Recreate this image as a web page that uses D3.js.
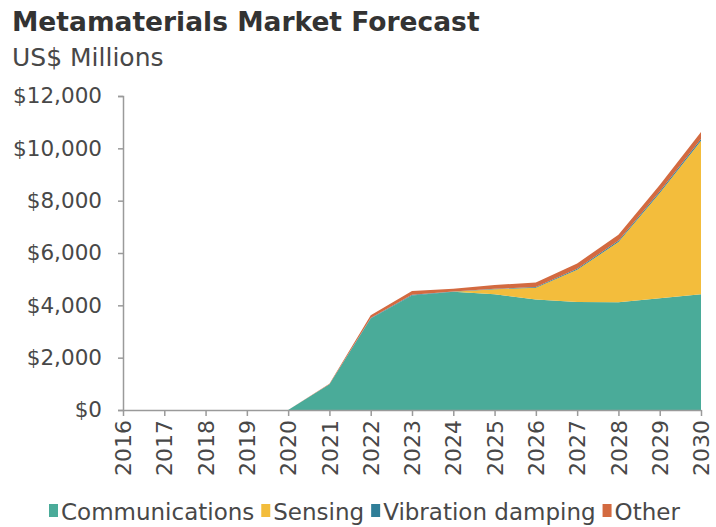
<!DOCTYPE html>
<html>
<head>
<meta charset="utf-8">
<script src="https://cdn.jsdelivr.net/npm/d3@7"></script>
<style>
  html, body { margin: 0; padding: 0; background: #fff; }
  svg { display: block; }
</style>
</head>
<body>
<svg id="chart" width="716" height="527"></svg>
<script>
// Metamaterials market forecast, US$ millions, stacked by application
const years = [2016, 2017, 2018, 2019, 2020, 2021, 2022, 2023, 2024, 2025, 2026, 2027, 2028, 2029, 2030];
const communications = [0, 0, 0, 0, 0, 980, 3500, 4380, 4520, 4420, 4220, 4130, 4120, 4270, 4420];
const sensing =        [0, 0, 0, 0, 0, 0, 0, 0, 0, 190, 450, 1230, 2300, 4020, 5870];
const vibration =      [0, 0, 0, 0, 0, 0, 20, 20, 10, 20, 30, 40, 50, 60, 70];
const other =          [0, 0, 0, 0, 0, 20, 100, 150, 100, 150, 170, 200, 230, 250, 260];
const yTicks = [0, 2000, 4000, 6000, 8000, 10000, 12000];

const seriesNames = ["Communications", "Sensing", "Vibration damping", "Other"];
const seriesKeys = ["communications", "sensing", "vibration", "other"];
const colors = ["#4aab99", "#f3bd3c", "#2f7e98", "#d36a40"];

const rows = years.map((y, i) => ({
  year: y,
  communications: communications[i],
  sensing: sensing[i],
  vibration: vibration[i],
  other: other[i]
}));

const svg = d3.select("#chart");
const margin = { left: 123, right: 15, top: 96, bottom: 117 };
const W = 716, H = 527;
const x = d3.scaleLinear().domain([2016, 2030]).range([margin.left, W - margin.right]);
const y = d3.scaleLinear().domain([0, 12000]).range([H - margin.bottom, margin.top]);

const font = "'DejaVu Sans', Verdana, sans-serif";
const textColor = "#484848";

// Title and unit line
svg.append("text").attr("x", 12).attr("y", 31)
  .attr("font-family", font).attr("font-weight", "bold").attr("font-size", 26.5)
  .attr("fill", "#333").text("Metamaterials Market Forecast");
svg.append("text").attr("x", 12).attr("y", 66)
  .attr("font-family", font).attr("font-size", 25)
  .attr("fill", textColor).text("US$ Millions");

// Stacked areas
const stack = d3.stack().keys(seriesKeys);
const layers = stack(rows);
const area = d3.area()
  .x(d => x(d.data.year))
  .y0(d => y(d[0]))
  .y1(d => y(d[1]))
  .curve(d3.curveLinear);

svg.append("g").selectAll("path").data(layers).join("path")
  .attr("d", area)
  .attr("fill", (d, i) => colors[i]);

// Y axis
const yAxis = d3.axisLeft(y).tickValues(yTicks).tickSize(5).tickPadding(16)
  .tickFormat(d => "$" + d3.format(",")(d));
const gy = svg.append("g").attr("transform", `translate(${margin.left},0)`).call(yAxis);
gy.select(".domain").attr("stroke", "#9a9a9a").attr("stroke-width", 1.5);
gy.selectAll(".tick line").attr("stroke", "#9a9a9a").attr("stroke-width", 1.5);
gy.selectAll(".tick text").attr("font-family", font).attr("font-size", 21.5).attr("fill", textColor);

// X axis
const xAxis = d3.axisBottom(x).tickValues(years).tickSize(6).tickSizeOuter(0).tickFormat(d3.format("d"));
const gx = svg.append("g").attr("transform", `translate(0,${H - margin.bottom})`).call(xAxis);
gx.select(".domain").attr("stroke", "#9a9a9a").attr("stroke-width", 1.5);
gx.selectAll(".tick line").attr("stroke", "#9a9a9a").attr("stroke-width", 1.5);
gx.selectAll(".tick text")
  .attr("font-family", font).attr("font-size", 22).attr("fill", textColor)
  .attr("transform", "rotate(-90)")
  .attr("text-anchor", "end")
  .attr("x", -10).attr("y", 0).attr("dy", "0.35em");

// Legend
const legend = svg.append("g").attr("transform", "translate(49,512)");
let lx = 0;
seriesNames.forEach((name, i) => {
  const g = legend.append("g").attr("transform", `translate(${lx},0)`);
  g.append("rect").attr("x", 0).attr("y", -8).attr("width", 9).attr("height", 13).attr("fill", colors[i]);
  const t = g.append("text").attr("x", 12).attr("y", 0).attr("dy", "0.33em")
    .attr("font-family", font).attr("font-size", 23).attr("fill", textColor).text(name);
  lx += 12 + t.node().getComputedTextLength() + 7;
});
</script>
</body>
</html>
